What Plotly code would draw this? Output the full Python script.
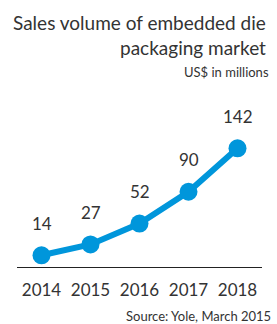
import plotly.graph_objects as go

years = ["2014", "2015", "2016", "2017", "2018"]
sales = [14, 27, 52, 90, 142]

title_lines = ["Sales volume of embedded die", "packaging market"]
subtitle = "US$ in millions"
source = "Source: Yole, March 2015"

W, H = 277, 324
L, R, T, B = 17, 15, 120, 57
ph = H - T - B
FONT = "Lato"
BLUE = "#0096DB"
GREY = "#333333"

def py(ypix):
    return (H - B - ypix) / ph

fig = go.Figure()
fig.add_trace(go.Scatter(
    x=years, y=sales, mode="lines+markers",
    line=dict(color=BLUE, width=6),
    marker=dict(color=BLUE, size=18),
    hoverinfo="skip", showlegend=False,
))

annotations = []
for i, yv in enumerate(sales):
    annotations.append(dict(x=i, y=yv, text=str(yv), showarrow=False,
                            yshift=32, font=dict(family=FONT, size=17, color=GREY)))

title_centers = [22.5, 47.5]
for txt, yc in zip(title_lines, title_centers):
    annotations.append(dict(x=1, xref="paper", y=py(yc), yref="paper", text=txt,
                            showarrow=False, xanchor="right", yanchor="middle",
                            xshift=6, font=dict(family=FONT, size=19, color=GREY)))
annotations.append(dict(x=1, xref="paper", y=py(71.5), yref="paper", text=subtitle,
                        showarrow=False, xanchor="right", yanchor="middle",
                        xshift=9, font=dict(family=FONT, size=13, color=GREY)))
annotations.append(dict(x=1, xref="paper", y=py(315.5), yref="paper", text=source,
                        showarrow=False, xanchor="right", yanchor="middle",
                        xshift=11, font=dict(family=FONT, size=13, color=GREY)))

fig.update_layout(
    width=W, height=H,
    margin=dict(l=L, r=R, t=T, b=B, pad=0),
    paper_bgcolor="white", plot_bgcolor="white",
    annotations=annotations,
    xaxis=dict(type="category", range=[-0.5, 4.5], showgrid=False, zeroline=False,
               showline=True, linecolor="#222222", linewidth=1,
               ticks="outside", ticklen=8, tickcolor="rgba(0,0,0,0)",
               tickfont=dict(family=FONT, size=17, color=GREY), fixedrange=True),
    yaxis=dict(range=[0, ph / 0.836], visible=False, fixedrange=True),
)

fig.write_html("out.html", config={"displayModeBar": False},
               post_script="document.body.style.margin='0';document.body.style.overflow='hidden';")
